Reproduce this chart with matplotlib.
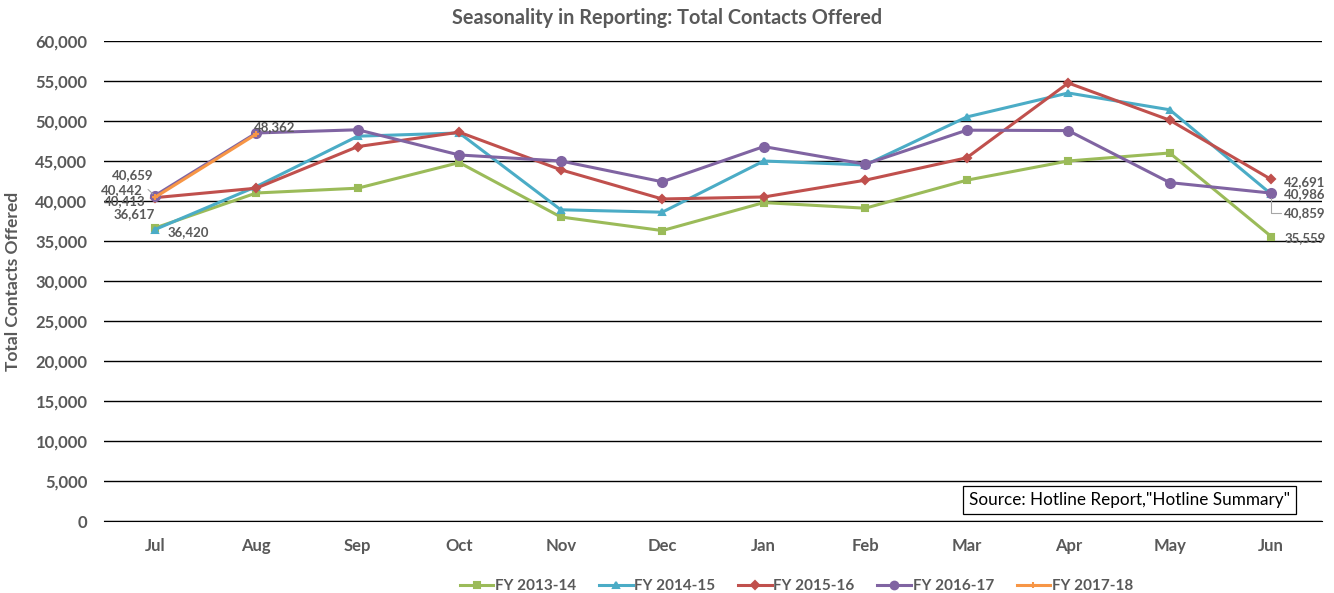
import matplotlib
matplotlib.use("Agg")
import matplotlib.pyplot as plt

plt.rcParams['font.family'] = ['Lato', 'DejaVu Sans']

months = ["Jul", "Aug", "Sep", "Oct", "Nov", "Dec", "Jan", "Feb", "Mar", "Apr", "May", "Jun"]
fy1314 = [36617, 41000, 41600, 44800, 38000, 36300, 39800, 39100, 42600, 45000, 46000, 35559]
fy1415 = [36420, 41800, 48100, 48500, 38900, 38600, 45000, 44500, 50500, 53500, 51400, 40859]
fy1516 = [40413, 41600, 46800, 48600, 43900, 40250, 40500, 42600, 45400, 54750, 50100, 42691]
fy1617 = [40659, 48500, 48900, 45750, 45000, 42400, 46800, 44600, 48850, 48800, 42300, 40986]
fy1718 = [40442, 48362]

series = [
    ("FY 2013-14", fy1314, "#9BBB59", "s", 5),
    ("FY 2014-15", fy1415, "#4BACC6", "^", 5),
    ("FY 2015-16", fy1516, "#C0504D", "D", 4.5),
    ("FY 2016-17", fy1617, "#8064A2", "o", 6.5),
    ("FY 2017-18", fy1718, "#F79646", "+", 5),
]

fig = plt.figure(figsize=(13.34, 5.93), dpi=100)
ax = fig.add_axes([0.078, 0.1214, 0.913, 0.8095])
txtc = "#595959"

for name, vals, col, mk, ms in series:
    ax.plot(range(len(vals)), vals, color=col, lw=2.2, marker=mk, ms=ms,
            label=name, zorder=3, markeredgewidth=1.5)

ax.set_xlim(-0.5, 11.5)
ax.set_ylim(0, 60000)
ax.set_yticks(range(0, 60001, 5000))
ax.set_yticklabels([f"{v:,}" for v in range(0, 60001, 5000)])
ax.set_xticks(range(12))
ax.set_xticklabels(months)
ax.grid(axis='y', color='#000000', lw=1.0)
ax.set_axisbelow(True)
for s in ["left", "right", "top"]:
    ax.spines[s].set_visible(False)
ax.spines["bottom"].set_color("#000000")
ax.tick_params(length=0, labelsize=12, labelcolor=txtc)
ax.tick_params(axis='x', pad=12)
ax.tick_params(axis='y', pad=12)
for lbl in ax.get_xticklabels() + ax.get_yticklabels():
    lbl.set_fontweight('bold')

ax.set_ylabel("Total Contacts Offered", fontsize=12.5, fontweight='bold', color=txtc, labelpad=10)
fig.text(0.5, 0.97, "Seasonality in Reporting: Total Contacts Offered", ha='center', va='center',
         fontsize=14.3, fontweight='bold', color=txtc)

lab = dict(fontsize=9.5, fontweight='bold', color=txtc, zorder=5)
def fmt(v):
    return f"{v:,}"
# Jul labels
ax.annotate(fmt(fy1617[0]), (0, fy1617[0]), xytext=(-0.22, 43250), ha='center', va='center',
            arrowprops=dict(arrowstyle='-', color='#A6A6A6', lw=0.8, shrinkA=6, shrinkB=2), **lab)
ax.text(-0.33, 41375, fmt(fy1718[0]), ha='center', va='center', **lab)
ax.text(-0.30, 40000, fmt(fy1516[0]), ha='center', va='center', **lab)
ax.text(-0.20, 38375, fmt(fy1314[0]), ha='center', va='center', **lab)
ax.text(0.33, 36125, fmt(fy1415[0]), ha='center', va='center', **lab)
ax.text(1.18, 49250, fmt(fy1718[1]), ha='center', va='center', **lab)
# Jun labels
ax.text(11.33, 42400, fmt(fy1516[11]), ha='center', va='center', **lab)
ax.text(11.33, 40850, fmt(fy1617[11]), ha='center', va='center', **lab)
ax.annotate(fmt(fy1415[11]), (11, fy1415[11]), xytext=(11.33, 38500), ha='center', va='center',
            arrowprops=dict(arrowstyle='-', color='#A6A6A6', lw=0.8, shrinkA=21, shrinkB=3,
                            connectionstyle="angle,angleA=0,angleB=90,rad=0"), **lab)
ax.text(11.33, 35350, fmt(fy1314[11]), ha='center', va='center', **lab)

# source box
ax.text(0.9735, 0.028, 'Source: Hotline Report,"Hotline Summary"', transform=ax.transAxes,
        ha='right', va='bottom', fontsize=12.3, color='#000000', zorder=6,
        bbox=dict(boxstyle='square,pad=0.35', fc='white', ec='#000000', lw=0.9))

leg = fig.legend(loc='center', bbox_to_anchor=(0.597, 0.012), ncol=5, frameon=False,
                 fontsize=11, handlelength=2.2, columnspacing=1.5, handletextpad=0.1,
                 markerscale=0.85)
for t in leg.get_texts():
    t.set_color(txtc)
    t.set_fontweight('bold')

fig.savefig("out.png", dpi=100)
